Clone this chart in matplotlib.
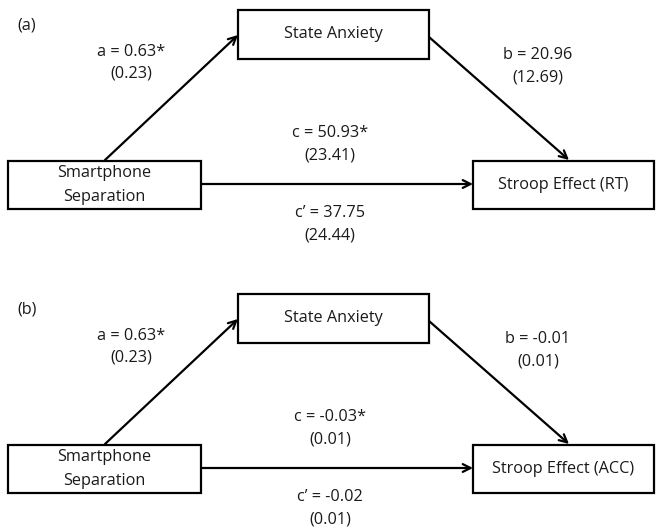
import matplotlib.pyplot as plt
from matplotlib.patches import Rectangle

plt.rcParams['font.family'] = ['Open Sans', 'DejaVu Sans']

panel_tags = ["(a)", "(b)"]
outcomes = ["Stroop Effect (RT)", "Stroop Effect (ACC)"]
a_paths = [("a = 0.63*", "(0.23)"), ("a = 0.63*", "(0.23)")]
b_paths = [("b = 20.96", "(12.69)"), ("b = -0.01", "(0.01)")]
c_paths = [("c = 50.93*", "(23.41)"), ("c = -0.03*", "(0.01)")]
cp_paths = [("c\u2019 = 37.75", "(24.44)"), ("c\u2019 = -0.02", "(0.01)")]

W, H = 662, 528
fig = plt.figure(figsize=(W / 100, H / 100), dpi=100)
ax = fig.add_axes([0, 0, 1, 1])
ax.set_xlim(0, W)
ax.set_ylim(H, 0)
ax.set_axis_off()

fs = 11.7
lw = 1.6
tc = "#1a1a1a"


def box(x0, y0, x1, y1, text):
    ax.add_patch(Rectangle((x0, y0), x1 - x0, y1 - y0, fill=False,
                           edgecolor="black", linewidth=lw))
    ax.text((x0 + x1) / 2, (y0 + y1) / 2, text, ha="center", va="center",
            fontsize=fs, linespacing=1.6, color=tc)


def arrow(p0, p1):
    ax.annotate("", xy=p1, xytext=p0,
                arrowprops=dict(arrowstyle="->", lw=lw, color="black",
                                shrinkA=0, shrinkB=0, mutation_scale=14))


def label(x, y, pair):
    ax.text(x, y, pair[0], ha="center", va="center", fontsize=fs, color=tc)
    ax.text(x, y + 22, pair[1], ha="center", va="center", fontsize=fs, color=tc)


for i in range(2):
    dy = 284 * i
    ax.text(17, 26 + dy, panel_tags[i], ha="left", va="center", fontsize=fs, color=tc)
    box(238, 10 + dy, 429, 59 + dy, "State Anxiety")
    box(8, 161 + dy, 201, 209 + dy, "Smartphone\nSeparation")
    box(473, 161 + dy, 654, 209 + dy, outcomes[i])
    arrow((105, 160 + dy), (238, 35 + dy))
    arrow((429, 37 + dy), (569, 160 + dy))
    arrow((201, 184 + dy), (473, 184 + dy))
    label(131, 52 + dy, a_paths[i])
    label(538, 55 + dy, b_paths[i])
    label(330, 133 + dy, c_paths[i])
    label(330, 213 + dy, cp_paths[i])

fig.savefig("out.png", dpi=100)
